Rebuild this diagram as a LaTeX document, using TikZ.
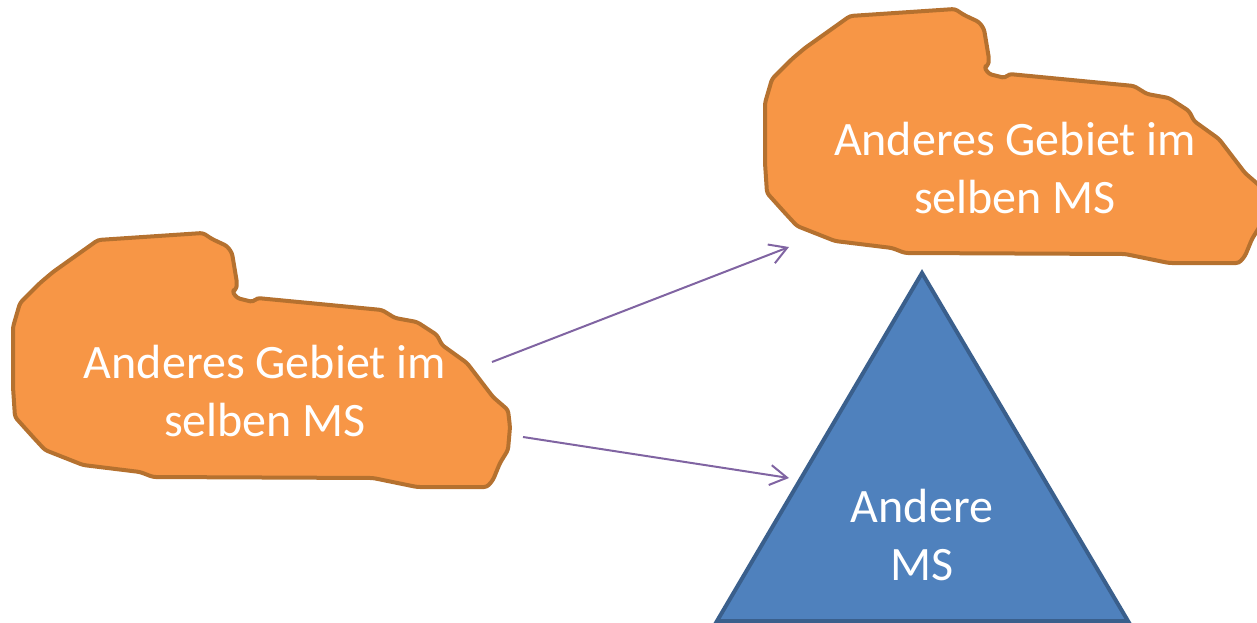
\documentclass[tikz,border=0pt]{standalone}
\usepackage{fontspec}
\setmainfont{Carlito}
\usetikzlibrary{arrows.meta}
\definecolor{regionfill}{HTML}{F79646}
\definecolor{regionline}{HTML}{B5712F}
\definecolor{statefill}{HTML}{4F81BD}
\definecolor{stateline}{HTML}{3A5F8C}
\definecolor{linkcol}{HTML}{8064A2}
\tikzset{
  region/.style={fill=regionfill, draw=regionline, line width=4pt, rounded corners=3pt, line join=round},
  statebox/.style={fill=statefill, draw=stateline, line width=4pt, line join=miter},
  caption/.style={text=white, align=center, inner sep=0pt, font=\fontsize{48}{58}\selectfont},
  link/.style={draw=linkcol, line width=2pt, -{Straight Barb[length=17pt, width=20pt, line width=2pt]}},
  % hand-drawn outline of an area
  blob/.pic={
    \path[region] (98,240) -- (203,233) -- (212,239) -- (227,246) -- (232,253) -- (237,283)
      -- (236,290) -- (232,291) -- (237,298) -- (253,302) -- (257,298) -- (382,310)
      -- (395,318) -- (417,322) -- (437,335) -- (442,345) -- (467,363) -- (493,397)
      -- (508,410) -- (510,427) -- (508,450) -- (500,463) -- (493,480) -- (487,487)
      -- (417,487) -- (373,478) -- (153,477) -- (140,472) -- (83,465) -- (45,450)
      -- (33,437) -- (15,417) -- (13,387) -- (13,327) -- (20,303) -- (40,283)
      -- (53,272) -- cycle;
  }
}
\begin{document}
\begin{tikzpicture}[x=1pt,y=-1pt]
\useasboundingbox (0,0) rectangle (1257,623);
\clip (0,0) rectangle (1257,623);

% the two areas of the same member state
\pic at (0,0) {blob};
\pic at (752,-224) {blob};

% the other member states
\draw[statebox] (922,273) -- (1128,621) -- (717,621) -- cycle;

\node[caption] (src) at (265,391) {Anderes Gebiet im\\selben MS};
\node[caption] (dst) at (1015,168) {Anderes Gebiet im\\selben MS};
\node[caption] (other) at (922,535) {Andere\\MS};

% arrow end points
\coordinate (srcA) at (492,362);
\coordinate (dstA) at (789,247);
\coordinate (srcB) at (523,437);
\coordinate (otherB) at (789,478);

\draw[link] (srcA) -- (dstA);
\draw[link] (srcB) -- (otherB);
\end{tikzpicture}
\end{document}
